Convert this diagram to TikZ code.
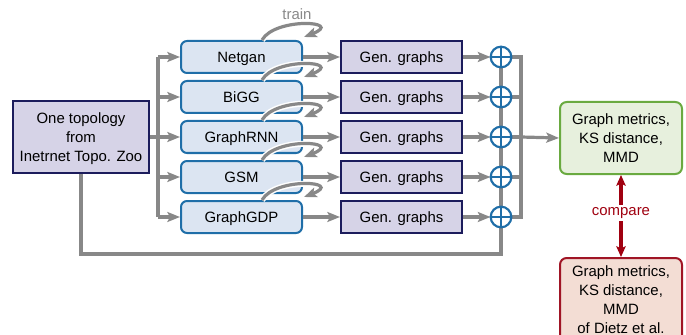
\documentclass[tikz,border=0pt]{standalone}
\usepackage{fontspec}
\setmainfont{Liberation Sans}
\usetikzlibrary{arrows.meta,backgrounds}
\definecolor{lgray}{HTML}{888888}
\definecolor{mfill}{HTML}{DCE5F2}
\definecolor{mdraw}{HTML}{1F6EA8}
\definecolor{gfill}{HTML}{D6D3E7}
\definecolor{gdraw}{HTML}{1C1C5C}
\definecolor{grfill}{HTML}{E7F0DD}
\definecolor{grdraw}{HTML}{6AAA40}
\definecolor{rfill}{HTML}{F3DDD4}
\definecolor{rdraw}{HTML}{A01525}
\definecolor{cmp}{HTML}{A00010}
\tikzset{
  txt/.style={font=\fontsize{11.2}{14.2}\selectfont, align=center, inner sep=0pt},
  oneline/.style={text height=8pt, text depth=0pt},
  model/.style={txt, oneline, draw=mdraw, fill=mfill, line width=1.5pt, rounded corners=4.5pt, minimum width=90.75pt, minimum height=24pt},
  gen/.style={txt, oneline, draw=gdraw, fill=gfill, line width=1.5pt, minimum width=90.75pt, minimum height=24pt},
  src/.style={txt, text depth=0pt, draw=gdraw, fill=gfill, line width=1.5pt, minimum width=102pt, minimum height=54pt},
  green/.style={txt, text depth=0pt, draw=grdraw, fill=grfill, line width=1.5pt, rounded corners=5pt, minimum width=91.5pt, minimum height=54pt},
  red/.style={txt, draw=rdraw, fill=rfill, line width=1.5pt, rounded corners=5pt, minimum width=91.5pt, minimum height=63pt},
  opl/.style={circle, draw=mdraw, fill=white, line width=1.6pt, minimum size=15.5pt, inner sep=0pt},
  conn/.style={draw=lgray, line width=2.4pt},
  arr/.style={conn, -{Stealth[length=9.5pt,width=7.5pt,inset=2pt]}},
  trn/.style={arr, preaction={draw=white, line width=4.6pt, -{}}},
}
\begin{document}
\begin{tikzpicture}[x=0.75pt,y=-0.75pt]
\useasboundingbox (0,0) rectangle (686,335);
% source
\node[src] (L) at (81,137) {One topology\\from\\Inetrnet Topo. Zoo};
% models
\node[model] (m1) at (241.5,57) {Netgan};
\node[model] (m2) at (241.5,97) {BiGG};
\node[model] (m3) at (241.5,137) {GraphRNN};
\node[model] (m4) at (241.5,177) {GSM};
\node[model] (m5) at (241.5,217) {GraphGDP};
% generated
\node[gen] (g1) at (401.5,57) {Gen. graphs};
\node[gen] (g2) at (401.5,97) {Gen. graphs};
\node[gen] (g3) at (401.5,137) {Gen. graphs};
\node[gen] (g4) at (401.5,177) {Gen. graphs};
\node[gen] (g5) at (401.5,217) {Gen. graphs};
% result boxes
\node[green] (G) at (621,138) {Graph metrics,\\KS distance,\\MMD};
\node[red] (R) at (621,300) {Graph metrics,\\KS distance,\\MMD\\of Dietz et al.};
% coordinates
\coordinate (lt) at (158,57);
\coordinate (lb) at (158,217);
\coordinate (rt) at (521,57);
\coordinate (rb) at (521,217);
\coordinate (bot) at (81,254);
\coordinate (c1) at (501,57);
\coordinate (c2) at (501,97);
\coordinate (c3) at (501,137);
\coordinate (c4) at (501,177);
\coordinate (c5) at (501,217);
% connectors
\draw[conn] (L.east) -- (L.east -| lt);
\draw[conn] (lt) -- (lb);
\foreach \i in {1,...,5}{
  \draw[arr] (m\i.west -| lt) -- (m\i.west);
  \draw[arr] (m\i.east) -- (g\i.west);
  \draw[arr] (g\i.east) -- ([xshift=-7.9pt]c\i);
}
\draw[conn] (L.south) -- (bot) -| (c1);
\draw[conn] (c1) -- (rt) -- (rb) -- (c5);
\foreach \i in {2,3,4}{\draw[conn] (c\i) -- (c\i -| rt);}
\draw[arr] (rt |- c3) -- (G.west);
% oplus nodes
\foreach \i in {1,...,5}{
  \node[opl] (o\i) at (c\i) {};
  \draw[mdraw, line width=1.6pt] (o\i.north) -- (o\i.south) (o\i.west) -- (o\i.east);
}
% train arrows
\foreach \i in {1,...,5}{
  \draw[trn] ([xshift=15.4pt]m\i.north) .. controls +(13,-23) and +(41,-16) .. +(42,-3);
}
\node[txt, text=lgray] (tl) at (297,14) {train};
% compare
\draw[cmp, line width=2.4pt, {Stealth[length=8pt,width=7pt,inset=1.5pt]}-{Stealth[length=8pt,width=7pt,inset=1.5pt]}] (G.south) -- (R.north);
\node[txt, text=cmp, fill=white, inner sep=2pt] (cm) at (621,213) {compare};
\end{tikzpicture}
\end{document}
